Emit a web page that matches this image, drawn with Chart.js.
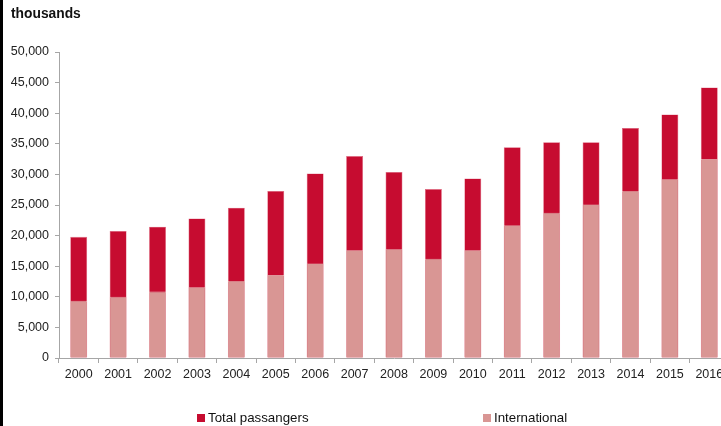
<!DOCTYPE html>
<html>
<head>
<meta charset="utf-8">
<script src="https://cdn.jsdelivr.net/npm/chart.js@4"></script>
<style>
  html, body { margin: 0; padding: 0; background: #fff; overflow: hidden; }
  #wrap { position: relative; width: 721px; height: 426px; overflow: hidden; font-family: "Liberation Sans", Arial, sans-serif; }
  #box { position: absolute; left: 0; top: 0; width: 742px; height: 426px; }
  #edge { position: absolute; left: 0; top: 0; width: 3px; height: 426px; background: #000; }
  #unit { position: absolute; left: 11px; top: 6px; font-size: 13.8px; font-weight: bold; color: #111; }
  .leg { position: absolute; top: 410px; font-size: 13.3px; color: #111; white-space: nowrap; }
  .leg span { display: inline-block; width: 8px; height: 8px; margin-right: 3px; vertical-align: 0px; }
</style>
</head>
<body>
<div id="wrap">
  <div id="box"><canvas id="chart"></canvas></div>
  <div id="edge"></div>
  <div id="unit">thousands</div>
  <div class="leg" style="left:197px"><span style="background:#C60C30"></span>Total passangers</div>
  <div class="leg" style="left:483px"><span style="background:#D99694"></span>International</div>
</div>
<script>
// Datos (miles de pasajeros)
const anios = ['2000', '2001', '2002', '2003', '2004', '2005', '2006', '2007', '2008',
               '2009', '2010', '2011', '2012', '2013', '2014', '2015', '2016'];
const totalPasajeros = [19800, 20750, 21450, 22800, 24550, 27300, 30150, 33000, 30400,
                        27600, 29350, 34450, 35250, 35250, 37600, 39800, 44200];
const internacional = [9350, 10000, 10850, 11550, 12600, 13550, 15450, 17600, 17750,
                       16200, 17600, 21700, 23750, 25100, 27300, 29200, 32500];

const ctx = document.getElementById('chart').getContext('2d');
ctx.canvas.width = 742;
ctx.canvas.height = 426;

new Chart(ctx, {
    type: 'bar',
    data: {
        labels: anios,
        datasets: [
            {
                label: 'Total passangers',
                data: totalPasajeros,
                backgroundColor: '#C60C30',
                borderColor: '#E06A80',
                borderWidth: 0.6,
                order: 2,
                barPercentage: 0.43,
                categoryPercentage: 1
            },
            {
                label: 'International',
                data: internacional,
                backgroundColor: '#D99694',
                borderColor: '#EBC3C2',
                borderWidth: 0.6,
                order: 1,
                barPercentage: 0.43,
                categoryPercentage: 1
            }
        ]
    },
    options: {
        responsive: false,
        animation: false,
        layout: { padding: { left: 0, right: 13, top: 52, bottom: 0 } },
        plugins: {
            legend: { display: false },
            tooltip: { enabled: false }
        },
        scales: {
            x: {
                stacked: true,
                grid: { drawOnChartArea: false, drawTicks: true, tickLength: 5, color: '#A6A6A6', offset: true },
                border: { color: '#A6A6A6', width: 1 },
                ticks: { color: '#222', padding: 4, font: { family: 'Liberation Sans', size: 12.5 }, maxRotation: 0 },
                afterFit: scale => { scale.height = 68; }
            },
            y: {
                stacked: false,
                min: 0,
                max: 50000,
                grid: { drawOnChartArea: false, drawTicks: true, tickLength: 4, color: '#A6A6A6' },
                border: { color: '#A6A6A6', width: 1 },
                ticks: {
                    stepSize: 5000,
                    color: '#222',
                    padding: 6,
                    font: { family: 'Liberation Sans', size: 12.5 },
                    callback: v => v.toLocaleString('en-US')
                },
                afterFit: scale => { scale.width = 59; }
            }
        }
    }
});
</script>
</body>
</html>
